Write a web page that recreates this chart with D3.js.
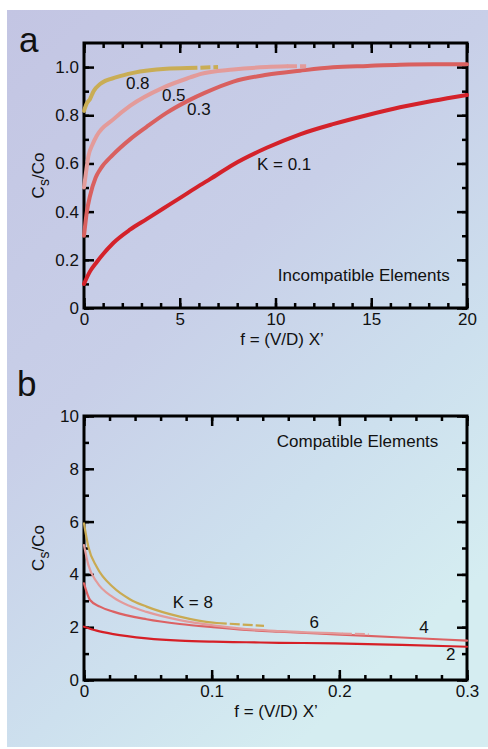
<!DOCTYPE html>
<html>
<head>
<meta charset="utf-8">
<script src="https://cdn.jsdelivr.net/npm/d3@7/dist/d3.min.js"></script>
<style>
  body { margin: 0; background: #fff; }
  svg text { font-family: "Liberation Sans", Arial, Helvetica, sans-serif; fill: #111; }
</style>
</head>
<body>
<div id="chart"></div>
<script>
// ---- panel a : incompatible elements, points are [f, Cs/Co] ----
var a_k01 = [[0,0.1],[0.3,0.15],[0.66,0.19],[1.53,0.27],[2.4,0.325],[3.27,0.369],[4.14,0.413],[5.0,0.456],[6.06,0.51],[6.58,0.535],[7.8,0.596],[9.54,0.665],[11.28,0.721],[13.0,0.763],[14.77,0.8],[16.5,0.833],[18.24,0.86],[20,0.884]];
var a_k03 = [[0,0.3],[0.15,0.4],[0.31,0.464],[0.6,0.54],[0.84,0.575],[1.53,0.6375],[2.4,0.7],[3.27,0.752],[4.31,0.81],[5.5,0.863],[6.3,0.893],[7.8,0.94],[9.54,0.968],[11.28,0.985],[13.0,0.999],[14.8,1.005],[16.5,1.01],[18.24,1.012],[20,1.012]];
var a_k05 = [[0,0.5],[0.1,0.56],[0.23,0.63],[0.45,0.68],[0.66,0.714],[1.53,0.783],[2.4,0.839],[4.14,0.915],[5.54,0.957],[6.06,0.971],[7.8,0.99],[9.54,1.0],[10.6,1.003]];
var a_k05tail = [[10.6,1.003],[11.6,1.004]];
var a_k08 = [[0,0.818],[0.15,0.85],[0.31,0.867],[0.5,0.9],[0.84,0.93],[1.7,0.958],[2.57,0.976],[4.3,0.993],[5.4,0.996]];
var a_k08tail = [[5.4,0.996],[7.0,1.0]];

var a_xMajor = [0, 5, 10, 15, 20];
var a_xMinor = d3.range(0, 21, 1);
var a_yMajor = [0, 0.2, 0.4, 0.6, 0.8, 1.0];
var a_yMinor = d3.range(0, 11, 1).map(function(d){ return d / 10; });
var a_labels = [
  {text: "0.8", f: 2.19, v: 0.908},
  {text: "0.5", f: 4.07, v: 0.858},
  {text: "0.3", f: 5.38, v: 0.80},
  {text: "K = 0.1", f: 9.03, v: 0.571}
];

// ---- panel b : compatible elements ----
var b_k2 = [[0,2.02],[0.0099,1.87],[0.0229,1.74],[0.049,1.58],[0.075,1.49],[0.101,1.45],[0.127,1.43],[0.153,1.41],[0.197,1.39],[0.249,1.33],[0.3,1.26]];
var b_k4 = [[0,3.66],[0.0047,3.03],[0.0125,2.78],[0.0229,2.59],[0.049,2.3],[0.075,2.12],[0.101,2.0],[0.127,1.9],[0.153,1.83],[0.197,1.73],[0.249,1.61],[0.3,1.49]];
var b_k6 = [[0,5.11],[0.0034,4.36],[0.0099,3.72],[0.0229,3.13],[0.0359,2.8],[0.049,2.58],[0.075,2.27],[0.101,2.07],[0.127,1.93],[0.153,1.85],[0.202,1.76]];
var b_k6tail = [[0.202,1.76],[0.223,1.73]];
var b_k8 = [[0,5.93],[0.0034,5.05],[0.0099,4.29],[0.0229,3.51],[0.0359,3.06],[0.049,2.78],[0.075,2.4],[0.101,2.17],[0.104,2.16]];
var b_k8tail = [[0.104,2.16],[0.141,2.05]];

var b_xMajor = [0, 0.1, 0.2, 0.3];
var b_xMinor = d3.range(0, 16, 1).map(function(d){ return d * 0.02; });
var b_yMajor = [0, 2, 4, 6, 8, 10];
var b_yMinor = d3.range(0, 11, 1);
var b_labels = [
  {text: "K = 8", f: 0.0695, v: 2.73},
  {text: "6", f: 0.1766, v: 1.97},
  {text: "4", f: 0.2625, v: 1.78},
  {text: "2", f: 0.2836, v: 0.76}
];

var W = 488, H = 749;
var svg = d3.select("#chart").append("svg")
    .attr("width", W)
    .attr("height", H);

// background gradient box
var grad = svg.append("defs").append("linearGradient")
    .attr("id", "bg")
    .attr("x1", 0).attr("y1", 0).attr("x2", 0.6).attr("y2", 1);
grad.append("stop").attr("offset", "0%").attr("stop-color", "#c3c5e3");
grad.append("stop").attr("offset", "45%").attr("stop-color", "#c8cfe8");
grad.append("stop").attr("offset", "75%").attr("stop-color", "#cde0ee");
grad.append("stop").attr("offset", "100%").attr("stop-color", "#d5edf1");

svg.append("rect")
    .attr("x", 7).attr("y", 10)
    .attr("width", W - 7).attr("height", 737)
    .attr("fill", "url(#bg)");

function drawPanel(cfg) {
  var x = d3.scaleLinear().domain(cfg.xDomain).range([84, 467]);
  var y = d3.scaleLinear().domain(cfg.yDomain).range([cfg.bottom, cfg.top]);
  var g = svg.append("g");

  // ticks, all pointing inward
  function axisPair(axis, scale, major, minor, fmt, pos, label) {
    var minorAx = axis(scale).tickValues(minor).tickSize(-5).tickFormat("");
    var majorAx = axis(scale).tickValues(major).tickSize(-10).tickPadding(5)
        .tickFormat(label ? fmt : "");
    var g1 = g.append("g").attr("transform", pos).call(minorAx);
    var g2 = g.append("g").attr("transform", pos).call(majorAx);
    [g1, g2].forEach(function(s){
      s.select(".domain").remove();
      s.selectAll("line").attr("stroke", "#000").attr("stroke-width", 2.5);
      s.selectAll("text").style("font-size", "17px").attr("fill", "#111")
        .style("font-family", '"Liberation Sans", Arial, sans-serif');
    });
  }
  axisPair(d3.axisBottom, x, cfg.xMajor, cfg.xMinor, cfg.xFmt, "translate(0," + cfg.bottom + ")", true);
  axisPair(d3.axisTop, x, cfg.xMajor, cfg.xMinor, cfg.xFmt, "translate(0," + cfg.top + ")", false);
  axisPair(d3.axisLeft, y, cfg.yMajor, cfg.yMinor, cfg.yFmt, "translate(84,0)", true);
  axisPair(d3.axisRight, y, cfg.yMajor, cfg.yMinor, cfg.yFmt, "translate(467,0)", false);

  g.append("rect")
      .attr("x", 84).attr("y", cfg.top)
      .attr("width", 383).attr("height", cfg.bottom - cfg.top)
      .attr("fill", "none").attr("stroke", "#000").attr("stroke-width", 3);

  var line = d3.line()
      .x(function(d){ return x(d[0]); })
      .y(function(d){ return y(d[1]); })
      .curve(d3.curveMonotoneX);

  cfg.curves.forEach(function(c){
    g.append("path")
        .attr("d", line(c.pts))
        .attr("fill", "none")
        .attr("stroke", c.color)
        .attr("stroke-width", cfg.lw)
        .attr("stroke-dasharray", c.dash ? "10,3" : null)
        .attr("stroke-linecap", c.dash ? "butt" : "round");
  });

  g.selectAll(".lbl")
    .data(cfg.labels)
    .enter().append("text")
      .attr("x", function(d){ return x(d.f); })
      .attr("y", function(d){ return y(d.v); })
      .style("font-size", "17px")
      .text(function(d){ return d.text; });

  g.append("text")
      .attr("x", x(cfg.note.f))
      .attr("y", y(cfg.note.v))
      .attr("text-anchor", cfg.note.anchor)
      .style("font-size", "17px")
      .text(cfg.note.text);

  // x title
  g.append("text")
      .attr("x", cfg.titleX)
      .attr("y", cfg.bottom + 37)
      .attr("text-anchor", "middle")
      .style("font-size", "17px")
      .text("f = (V/D) X\u2019");

  // y title  Cs/Co
  var yt = g.append("text")
      .attr("transform", "translate(44," + ((cfg.top + cfg.bottom) / 2) + ") rotate(-90)")
      .attr("text-anchor", "middle")
      .style("font-size", "17px");
  yt.append("tspan").text("C");
  yt.append("tspan").attr("dy", 5).style("font-size", "14px").text("s");
  yt.append("tspan").attr("dy", -5).text("/Co");

  // panel letter
  g.append("text")
      .attr("x", cfg.letterX)
      .attr("y", cfg.letterY)
      .style("font-size", "35px")
      .text(cfg.letter);
}

drawPanel({
  top: 43, bottom: 308,
  xDomain: [0, 20], yDomain: [0, 1.1],
  xMajor: a_xMajor, xMinor: a_xMinor, yMajor: a_yMajor, yMinor: a_yMinor,
  xFmt: function(d){ return String(d); },
  yFmt: function(d){ return d === 0 ? "0" : d3.format(".1f")(d); },
  lw: 4,
  curves: [
    {pts: a_k01, color: "#d4222a"},
    {pts: a_k03, color: "#d9605f"},
    {pts: a_k05, color: "#e39b9a"},
    {pts: a_k05tail, color: "#e39b9a", dash: true},
    {pts: a_k08, color: "#c9ad55"},
    {pts: a_k08tail, color: "#c9ad55", dash: true}
  ],
  labels: a_labels,
  note: {text: "Incompatible Elements", f: 19.1, v: 0.1125, anchor: "end"},
  titleX: 282,
  letter: "a", letterX: 19, letterY: 52
});

drawPanel({
  top: 416, bottom: 680,
  xDomain: [0, 0.3], yDomain: [0, 10],
  xMajor: b_xMajor, xMinor: b_xMinor, yMajor: b_yMajor, yMinor: b_yMinor,
  xFmt: function(d){ return d === 0 ? "0" : d3.format(".1f")(d); },
  yFmt: function(d){ return String(d); },
  lw: 2.2,
  curves: [
    {pts: b_k2, color: "#d61f26"},
    {pts: b_k4, color: "#dc6163"},
    {pts: b_k6, color: "#e39a9a"},
    {pts: b_k6tail, color: "#e39a9a", dash: true},
    {pts: b_k8, color: "#c9aa52"},
    {pts: b_k8tail, color: "#c9aa52", dash: true}
  ],
  labels: b_labels,
  note: {text: "Compatible Elements", f: 0.151, v: 8.83, anchor: "start"},
  titleX: 276,
  letter: "b", letterX: 17, letterY: 396
});
</script>
</body>
</html>
